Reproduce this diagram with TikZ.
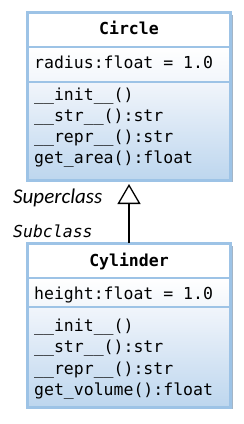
\documentclass[tikz,border=0pt]{standalone}
\usepackage{fontspec}
\setmonofont{DejaVu Sans Mono}
\newfontfamily\calib{Carlito}
\usetikzlibrary{arrows.meta}
\definecolor{bordc}{HTML}{9DC3E6}
\definecolor{shadc}{HTML}{A3B5C7}
\definecolor{attrb}{HTML}{F2F6FB}
\definecolor{methtop}{HTML}{F1F5FB}
\definecolor{methbot}{HTML}{BDD6EE}
\begin{document}
\begin{tikzpicture}[x=1pt,y=-1pt,
  comp/.style={draw=bordc, line width=2pt, minimum width=202pt, inner sep=0pt, anchor=north},
  hdr/.style={comp, fill=white},
  attr/.style={comp, top color=white, bottom color=attrb},
  meth/.style={comp, top color=methtop, bottom color=methbot},
  shad/.style={fill=shadc},
  txt/.style={inner sep=0pt, anchor=base west, font=\ttfamily\fontsize{16.5}{21}\selectfont},
  ttl/.style={inner sep=0pt, anchor=base, font=\ttfamily\bfseries\fontsize{16.5}{21}\selectfont},
  lbl/.style={inner sep=0pt, anchor=base west},
  inh/.style={line width=1.3pt, -{Triangle[open, length=20pt, width=23pt, line width=1.3pt]}}
]
\useasboundingbox (0,0) rectangle (244,424);
% ---- Circle ----
\fill[shad] (31,15) rectangle (233,182);
\node[hdr, minimum height=34pt] (cirH) at (129,12) {};
\node[attr, minimum height=35pt] (cirA) at (129,46) {};
\node[meth, minimum height=98pt] (cirM) at (129,81) {};
\draw[draw=bordc, line width=2pt] (cirH.north west) rectangle (cirM.south east);
\node[ttl] (cirT) at (129,34) {Circle};
\node[txt] (cira1) at (34,68) {radius:float = 1.0};
\node[txt] (cirm1) at (34,100) {\_\_init\_\_()};
\node[txt] (cirm2) at (34,121) {\_\_str\_\_():str};
\node[txt] (cirm3) at (34,142) {\_\_repr\_\_():str};
\node[txt] (cirm4) at (34,163) {get\_area():float};
% ---- Cylinder ----
\fill[shad] (31,246) rectangle (233,409);
\node[hdr, minimum height=34pt] (cylH) at (129,243) {};
\node[attr, minimum height=29pt] (cylA) at (129,277) {};
\node[meth, minimum height=100pt] (cylM) at (129,306) {};
\draw[draw=bordc, line width=2pt] (cylH.north west) rectangle (cylM.south east);
\node[ttl] (cylT) at (129,266) {Cylinder};
\node[txt] (cyla1) at (34,299) {height:float = 1.0};
\node[txt] (cylm1) at (34,331) {\_\_init\_\_()};
\node[txt] (cylm2) at (34,352) {\_\_str\_\_():str};
\node[txt] (cylm3) at (34,374) {\_\_repr\_\_():str};
\node[txt] (cylm4) at (34,395) {get\_volume():float};
% ---- labels ----
\node[lbl, font=\calib\itshape\fontsize{21}{24}\selectfont] (sup) at (13,203) {Superclass};
\node[lbl, font=\ttfamily\itshape\fontsize{16.5}{21}\selectfont] (sub) at (13,237) {Subclass};
% ---- inheritance ----
\draw[inh, shorten >=3pt] (cylH.north) -- (cirM.south);
\end{tikzpicture}
\end{document}
